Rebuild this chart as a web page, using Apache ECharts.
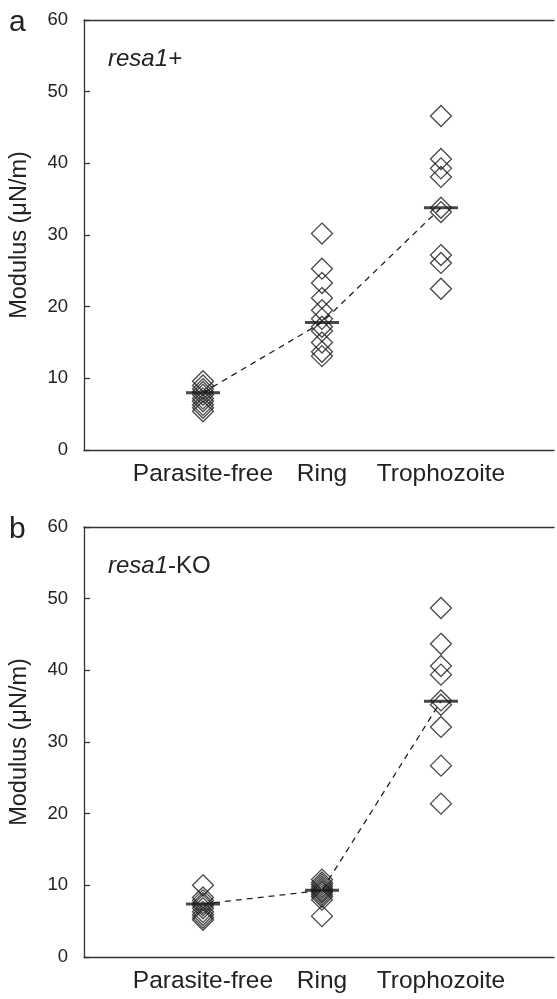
<!DOCTYPE html>
<html><head><meta charset="utf-8">
<script src="https://cdn.jsdelivr.net/npm/echarts@6/dist/echarts.min.js"></script>
<style>html,body{margin:0;padding:0;background:#fff}#c{width:557px;height:999px}</style>
</head><body><div id="c"></div>
<script>
// ---- data ----
const categories = ['Parasite-free', 'Ring', 'Trophozoite'];
const yTicks = [0, 10, 20, 30, 40, 50, 60];
// panel a: resa1+
const aParasiteFree = [9.6, 9.0, 8.5, 8.1, 7.7, 7.2, 6.8, 6.3, 5.9, 5.4];
const aRing = [30.2, 25.3, 23.3, 21.2, 19.5, 18.3, 17.2, 16.6, 15.0, 13.7, 13.1];
const aTrophozoite = [46.6, 40.6, 39.3, 38.1, 33.8, 33.2, 27.2, 26.1, 22.5];
const aMedians = [8.0, 17.8, 33.8];
// panel b: resa1-KO
const bParasiteFree = [10.0, 8.3, 7.9, 7.5, 7.2, 6.8, 6.3, 5.9, 5.5, 5.2];
const bRing = [10.8, 10.4, 10.1, 9.8, 9.5, 9.2, 9.0, 8.7, 8.4, 8.0, 5.7];
const bTrophozoite = [48.7, 43.7, 40.6, 39.4, 35.8, 35.2, 32.1, 26.7, 21.4];
const bMedians = [7.4, 9.3, 35.7];

const INK = '#222';
const FONT = '"Liberation Sans", Arial, sans-serif';

function pts(groups) {
  const out = [];
  groups.forEach((g, i) => g.forEach(v => out.push([i + 1, v])));
  return out;
}
function medPts(m) { return m.map((v, i) => [i + 1, v]); }

const panels = [
  { groups: [aParasiteFree, aRing, aTrophozoite], med: aMedians, top: 20, letter: 'a', label: [{t: 'resa1+', it: true}] },
  { groups: [bParasiteFree, bRing, bTrophozoite], med: bMedians, top: 527, letter: 'b', label: [{t: 'resa1', it: true}, {t: '-KO', it: false}] }
];

const grid = [], xAxis = [], yAxis = [], series = [], graphic = [];
panels.forEach((p, k) => {
  grid.push({ left: 83, top: p.top, width: 474, height: 430 });
  xAxis.push({
    gridIndex: k, type: 'value', min: 0, max: 3.95, interval: 1,
    axisLine: { show: true, lineStyle: { color: '#333', width: 1.3 } },
    axisTick: { show: false }, splitLine: { show: false },
    axisLabel: { formatter: v => categories[v - 1] || '', fontSize: 24.5, fontFamily: FONT, color: INK, margin: 12 }
  });
  xAxis.push({
    gridIndex: k, type: 'value', position: 'top', min: 0, max: 3.95, interval: 1,
    axisLine: { show: true, onZero: false, lineStyle: { color: '#333', width: 1.3 } },
    axisTick: { show: false }, splitLine: { show: false }, axisLabel: { show: false }
  });
  yAxis.push({
    gridIndex: k, type: 'value', min: yTicks[0], max: yTicks[yTicks.length - 1], interval: yTicks[1] - yTicks[0],
    axisLine: { show: true, lineStyle: { color: '#333', width: 1.3 } },
    axisTick: { show: true, inside: true, length: 6, lineStyle: { color: '#333', width: 1.3 } },
    splitLine: { show: false },
    axisLabel: { fontSize: 18.5, fontFamily: FONT, color: INK, margin: 16 },
    name: 'Modulus (\u03bcN/m)', nameLocation: 'middle', nameGap: 52,
    nameTextStyle: { fontSize: 23.5, fontFamily: FONT, color: INK }
  });
  const xi = k * 2;
  series.push({
    type: 'line', xAxisIndex: xi, yAxisIndex: k, data: medPts(p.med), symbol: 'none', z: 1,
    lineStyle: { color: INK, width: 1.3, type: [6, 5] }, silent: true
  });
  series.push({
    type: 'scatter', xAxisIndex: xi, yAxisIndex: k, data: pts(p.groups), symbol: 'diamond', symbolSize: 21, z: 2,
    itemStyle: { color: 'rgba(0,0,0,0)', borderColor: '#1a1a1a', borderWidth: 1.3 }, silent: true
  });
  series.push({
    type: 'scatter', xAxisIndex: xi, yAxisIndex: k, data: medPts(p.med), symbol: 'rect', symbolSize: [34, 3], z: 3,
    itemStyle: { color: '#1a1a1a' }, silent: true
  });
  graphic.push({ type: 'text', left: 9, top: p.top - 12, style: { text: p.letter, font: '30px ' + FONT, fill: INK } });
  const rich = {}; let txt = '';
  p.label.forEach((s, j) => { rich['s' + j] = { font: (s.it ? 'italic ' : '') + '24px ' + FONT, fill: INK }; txt += '{s' + j + '|' + s.t + '}'; });
  graphic.push({ type: 'text', left: 108, top: p.top + 27, style: { text: txt, rich: rich, font: '24px ' + FONT, fill: INK } });
});

const chart = echarts.init(document.getElementById('c'), null, { renderer: 'canvas' });
chart.setOption({ animation: false, backgroundColor: '#fff', grid, xAxis, yAxis, series, graphic });
</script>
</body></html>
